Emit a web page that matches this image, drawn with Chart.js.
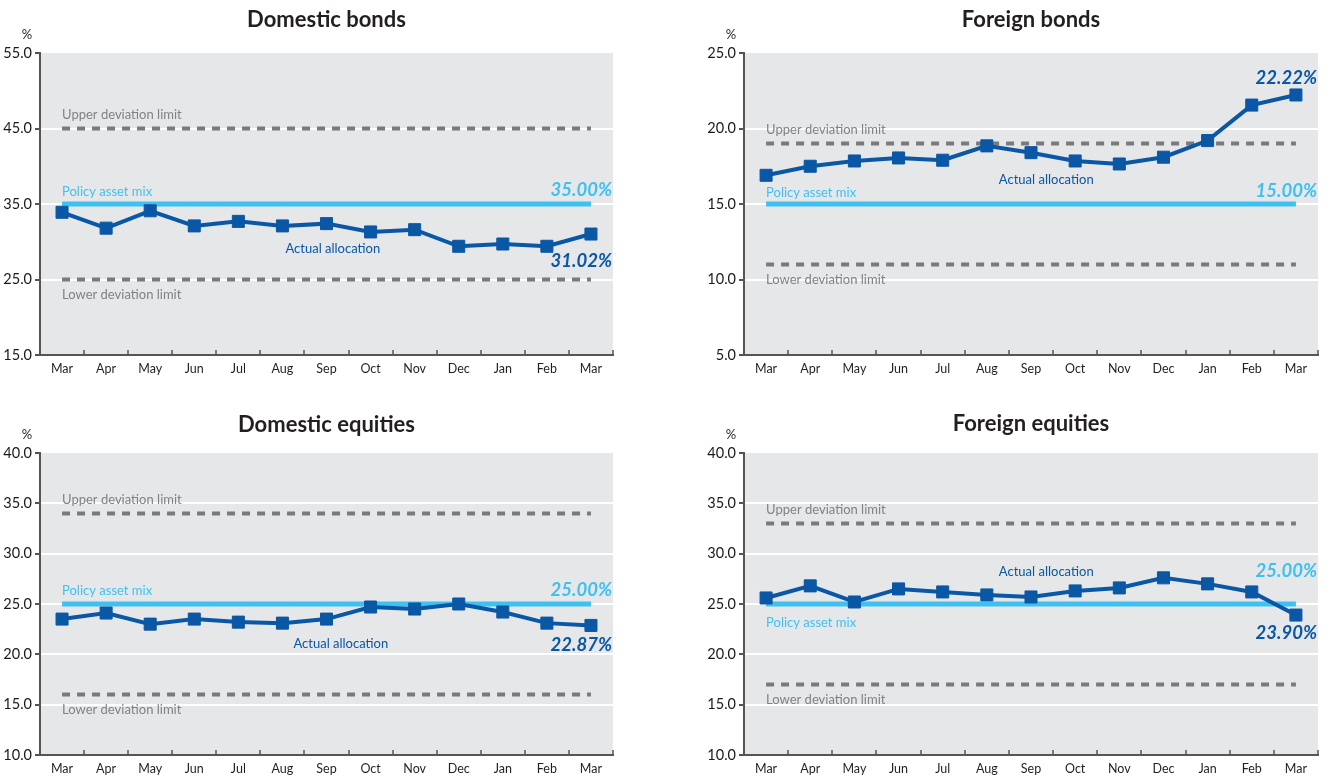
<!DOCTYPE html>
<html>
<head>
<meta charset="utf-8">
<script src="https://cdn.jsdelivr.net/npm/chart.js@4.4.1/dist/chart.umd.min.js"></script>
<style>
  body { margin: 0; background: #fff; width: 1330px; height: 776px; overflow: hidden; }
  .panel { position: absolute; }
</style>
</head>
<body>
<div class="panel" style="left:0;top:0"><canvas id="domBonds" width="665" height="388"></canvas></div>
<div class="panel" style="left:665px;top:0"><canvas id="forBonds" width="665" height="388"></canvas></div>
<div class="panel" style="left:0;top:400px"><canvas id="domEq" width="665" height="376"></canvas></div>
<div class="panel" style="left:665px;top:400px"><canvas id="forEq" width="665" height="376"></canvas></div>
<script>
const months = ['Mar', 'Apr', 'May', 'Jun', 'Jul', 'Aug', 'Sep', 'Oct', 'Nov', 'Dec', 'Jan', 'Feb', 'Mar'];

const titles = ['Domestic bonds', 'Foreign bonds', 'Domestic equities', 'Foreign equities'];

// actual allocation, % (month-end)
const domBondsActual = [33.9, 31.8, 34.1, 32.1, 32.7, 32.1, 32.4, 31.3, 31.6, 29.4, 29.7, 29.4, 31.02];
const forBondsActual = [16.9, 17.5, 17.85, 18.05, 17.9, 18.85, 18.4, 17.85, 17.65, 18.1, 19.2, 21.55, 22.22];
const domEqActual = [23.5, 24.1, 23.0, 23.5, 23.2, 23.1, 23.5, 24.7, 24.5, 25.0, 24.2, 23.1, 22.87];
const forEqActual = [25.6, 26.8, 25.2, 26.5, 26.2, 25.9, 25.7, 26.3, 26.6, 27.6, 27.0, 26.2, 23.9];

const policyMix = [35, 15, 25, 25];
const upperLimit = [45, 19, 34, 33];
const lowerLimit = [25, 11, 16, 17];

const yMin = [15, 5, 10, 10];
const yMax = [55, 25, 40, 40];
const yStep = [10, 5, 5, 5];

// where the "Actual allocation" caption sits (y in axis units)
const actualNoteY = [29.0, 16.6, 21.0, 28.2];

const FONT = "Lato, 'Open Sans', sans-serif";
Chart.defaults.font.family = FONT;

const GREY_TXT = '#808285';
const SKY = '#3ec1f0';
const BLUE = '#0a57a6';

const notesPlugin = {
  id: 'notes',
  beforeDraw(chart) {
    const { ctx, chartArea: a } = chart;
    ctx.save();
    ctx.fillStyle = '#e6e7e8';
    ctx.fillRect(a.left, a.top, a.right - a.left, a.bottom - a.top);
    ctx.restore();
  },
  afterDraw(chart, args, o) {
    const { ctx, chartArea: a, scales: { x, y } } = chart;
    ctx.save();

    // little upward tick marks on the category axis
    const half = (x.getPixelForValue(1) - x.getPixelForValue(0)) / 2;
    ctx.strokeStyle = '#555';
    ctx.lineWidth = 1.5;
    for (let i = 0; i < months.length; i++) {
      const bx = Math.round(x.getPixelForValue(i) + half);
      ctx.beginPath();
      ctx.moveTo(bx, a.bottom);
      ctx.lineTo(bx, a.bottom - 5);
      ctx.stroke();
    }

    // title and unit
    ctx.fillStyle = '#231f20';
    ctx.textAlign = 'center';
    ctx.textBaseline = 'middle';
    ctx.font = 'bold 22px ' + FONT;
    ctx.fillText(o.title, (a.left + a.right) / 2, a.top + o.titleDy);
    ctx.font = '13px ' + FONT;
    ctx.fillText('%', a.left - 13, a.top - 18);

    const x0 = x.getPixelForValue(0);
    ctx.textAlign = 'left';
    ctx.font = '13px ' + FONT;
    ctx.fillStyle = GREY_TXT;
    ctx.fillText('Upper deviation limit', x0, y.getPixelForValue(o.upper) - 14);
    ctx.fillText('Lower deviation limit', x0, y.getPixelForValue(o.lower) + 15);
    ctx.fillStyle = SKY;
    ctx.fillText('Policy asset mix', x0, y.getPixelForValue(o.policy) + o.policyNameDy);
    ctx.fillStyle = BLUE;
    ctx.fillText('Actual allocation', x.getPixelForValue(5) + o.noteDx, y.getPixelForValue(o.noteY));

    // end values
    ctx.textAlign = 'right';
    ctx.font = 'italic bold 18.5px ' + FONT;
    ctx.fillStyle = SKY;
    ctx.fillText(o.policy.toFixed(2) + '%', a.right - 1, y.getPixelForValue(o.policy) + o.policyPctDy);
    ctx.fillStyle = BLUE;
    const last = o.actual[o.actual.length - 1];
    ctx.fillText(last.toFixed(2) + '%', a.right - 1, y.getPixelForValue(last) + o.actualPctDy);
    ctx.restore();
  }
};

const panels = [
  { id: 'domBonds', actual: domBondsActual, pad: { top: 53, left: 0, right: 52, bottom: 0 }, xh: 33, titleDy: -33,
    policyNameDy: -12, policyPctDy: -14, actualPctDy: 27, noteDx: 3 },
  { id: 'forBonds', actual: forBondsActual, pad: { top: 53, left: 39, right: 12, bottom: 0 }, xh: 33, titleDy: -33,
    policyNameDy: -11, policyPctDy: -13, actualPctDy: -17, noteDx: 12 },
  { id: 'domEq', actual: domEqActual, pad: { top: 53, left: 0, right: 52, bottom: 0 }, xh: 21, titleDy: -28,
    policyNameDy: -13, policyPctDy: -14, actualPctDy: 20, noteDx: 11 },
  { id: 'forEq', actual: forEqActual, pad: { top: 53, left: 39, right: 12, bottom: 0 }, xh: 21, titleDy: -29,
    policyNameDy: 19, policyPctDy: -33, actualPctDy: 18, noteDx: 12 }
];

panels.forEach((p, k) => {
  const flat = v => months.map(() => v);
  new Chart(document.getElementById(p.id), {
    type: 'line',
    data: {
      labels: months,
      datasets: [
        { data: p.actual, borderColor: BLUE, backgroundColor: BLUE, borderWidth: 4,
          pointStyle: 'rect', pointRadius: 8.5, pointBorderWidth: 1, pointBorderColor: BLUE, tension: 0 },
        { data: flat(policyMix[k]), borderColor: SKY, borderWidth: 5, pointRadius: 0 },
        { data: flat(upperLimit[k]), borderColor: '#7a7a7c', borderWidth: 4, borderDash: [8, 7], pointRadius: 0 },
        { data: flat(lowerLimit[k]), borderColor: '#7a7a7c', borderWidth: 4, borderDash: [8, 7], pointRadius: 0 }
      ]
    },
    options: {
      responsive: false,
      animation: false,
      layout: { padding: p.pad },
      plugins: {
        legend: { display: false },
        tooltip: { enabled: false },
        notes: {
          title: titles[k], titleDy: p.titleDy, actual: p.actual,
          upper: upperLimit[k], lower: lowerLimit[k], policy: policyMix[k],
          noteY: actualNoteY[k], noteDx: p.noteDx,
          policyNameDy: p.policyNameDy, policyPctDy: p.policyPctDy, actualPctDy: p.actualPctDy
        }
      },
      scales: {
        x: {
          offset: true,
          grid: { display: false, drawTicks: false, tickLength: 0 },
          border: { display: true, color: '#555', width: 2 },
          ticks: { color: '#231f20', font: { size: 12.5 }, padding: 6, maxRotation: 0, autoSkip: false },
          afterFit: s => { s.height = p.xh; }
        },
        y: {
          min: yMin[k], max: yMax[k],
          ticks: { stepSize: yStep[k], color: '#1a1a1a', font: { size: 14.5 }, padding: 3,
            callback: v => v.toFixed(1) },
          grid: {
            color: c => (c.tick && (c.tick.value === yMin[k] || c.tick.value === yMax[k])) ? 'rgba(0,0,0,0)' : '#ffffff',
            lineWidth: 2, tickColor: '#555', tickLength: 5, drawTicks: true
          },
          border: { display: true, color: '#555', width: 2 },
          afterFit: s => { s.width = 40; }
        }
      }
    },
    plugins: [notesPlugin]
  });
});
</script>
</body>
</html>
